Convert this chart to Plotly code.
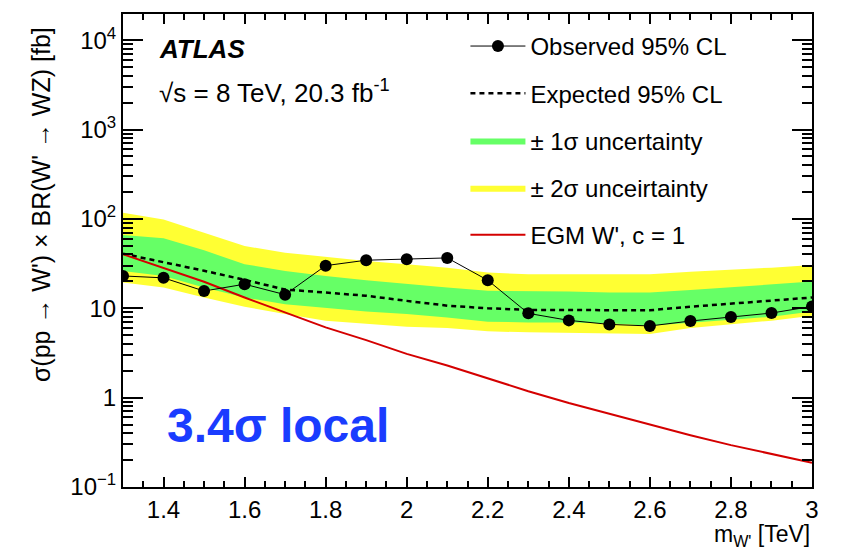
import plotly.graph_objects as go

# ---------------- data ----------------
mass = [1.3, 1.4, 1.5, 1.6, 1.7, 1.8, 1.9, 2.0, 2.1, 2.2, 2.3, 2.4, 2.5, 2.6, 2.7, 2.8, 2.9, 3.0]
observed = [23.0, 21.9, 15.6, 18.6, 14.2, 30.0, 34.5, 35.3, 36.6, 20.6, 8.77, 7.32, 6.60, 6.34, 7.20, 7.98, 8.84, 10.5]
expected = [40.8, 33.0, 26.3, 20.8, 16.2, 15.0, 13.8, 12.1, 10.7, 10.0, 9.6, 9.55, 9.45, 9.5, 10.4, 11.3, 12.1, 13.2]
sig1_hi = [66.0, 60.6, 44.5, 31.1, 26.2, 23.0, 20.6, 18.6, 17.1, 15.7, 15.7, 15.4, 15.0, 15.0, 16.0, 17.1, 18.3, 19.9]
sig1_lo = [26.2, 23.0, 17.1, 13.2, 11.1, 10.05, 9.22, 8.62, 7.9, 7.08, 6.95, 6.95, 6.78, 6.38, 6.95, 7.45, 8.05, 9.22]
sig2_hi = [117, 98.6, 70.0, 49.7, 41.9, 37.5, 33.9, 31.1, 28.5, 25.1, 24.0, 24.0, 24.0, 24.0, 25.7, 26.9, 28.5, 30.5]
sig2_lo = [19.4, 17.1, 13.2, 10.4, 8.62, 7.26, 6.67, 6.22, 6.02, 5.52, 5.38, 5.24, 5.24, 5.16, 6.02, 6.67, 7.26, 8.26]
egm = [40.2, 28.5, 19.8, 13.2, 9.0, 6.11, 4.4, 3.09, 2.29, 1.65, 1.18, 0.87, 0.66, 0.50, 0.38, 0.294, 0.233, 0.187]

y_tickvals = [0.1, 1, 10, 100, 1000, 10000]
y_ticktext = ["10<sup>\u22121</sup>", "1", "10", "10<sup>2</sup>", "10<sup>3</sup>", "10<sup>4</sup>"]
y_minor = [m * 10 ** e for e in range(-1, 5) for m in range(2, 10)]

FONT = "Liberation Sans, Arial, Helvetica, sans-serif"

fig = go.Figure()

# +-2 sigma band
fig.add_trace(go.Scatter(
    x=mass + mass[::-1], y=sig2_hi + sig2_lo[::-1],
    fill="toself", fillcolor="#ffff33", line=dict(width=0),
    mode="lines", name="\u00b1 2\u03c3 unceirtainty",
    legendgroup="g4", legendrank=4, hoverinfo="skip"))
# +-1 sigma band
fig.add_trace(go.Scatter(
    x=mass + mass[::-1], y=sig1_hi + sig1_lo[::-1],
    fill="toself", fillcolor="#66ff66", line=dict(width=0),
    mode="lines", name="\u00b1 1\u03c3 uncertainty",
    legendgroup="g3", legendrank=3, hoverinfo="skip"))
# expected
fig.add_trace(go.Scatter(
    x=mass, y=expected, mode="lines",
    line=dict(color="black", width=2.5, dash="5px,4px"),
    name="Expected 95% CL", legendgroup="g2", legendrank=2))
# EGM W'
fig.add_trace(go.Scatter(
    x=mass, y=egm, mode="lines",
    line=dict(color="#d40000", width=2),
    name="EGM W', c = 1", legendgroup="g5", legendrank=5))
# observed
fig.add_trace(go.Scatter(
    x=mass, y=observed, mode="lines+markers",
    line=dict(color="black", width=1),
    marker=dict(color="black", size=12),
    name="Observed 95% CL", legendgroup="g1", legendrank=1))

fig.update_layout(
    width=842, height=550,
    margin=dict(l=123, r=30, t=12, b=63),
    paper_bgcolor="white", plot_bgcolor="white",
    font=dict(family=FONT, size=24, color="black"),
    showlegend=True,
    legend=dict(x=0.497, y=0.979, xanchor="left", yanchor="top",
                bgcolor="rgba(0,0,0,0)", font=dict(size=24, family=FONT),
                tracegroupgap=13, itemwidth=55),
    xaxis=dict(
        range=[1.3, 3.0], tick0=0, dtick=0.2,
        ticks="inside", ticklen=10, tickwidth=1.5, tickcolor="black",
        showline=True, linecolor="black", linewidth=2, mirror="allticks",
        showgrid=False, zeroline=False,
        tickfont=dict(size=24, family=FONT),
        minor=dict(ticks="inside", ticklen=6, dtick=0.05, tick0=0,
                   tickcolor="black", tickwidth=1.5, showgrid=False),
    ),
    yaxis=dict(
        type="log", range=[-1, 4.293],
        tickmode="array", tickvals=y_tickvals, ticktext=y_ticktext,
        ticks="inside", ticklen=20, tickwidth=1.5, tickcolor="black",
        showline=True, linecolor="black", linewidth=2, mirror="allticks",
        showgrid=False, zeroline=False,
        tickfont=dict(size=24, family=FONT),
        minor=dict(ticks="inside", ticklen=10, tickmode="array", tickvals=y_minor,
                   tickcolor="black", tickwidth=1.5, showgrid=False),
    ),
)

annotations = [
    dict(text="<b><i>ATLAS</i></b>", x=0.05, y=0.926, xref="paper", yref="paper",
         xanchor="left", yanchor="middle", showarrow=False,
         font=dict(size=26, family=FONT)),
    dict(text="\u221as = 8 TeV, 20.3 fb<sup>-1</sup>", x=0.05, y=0.836, xref="paper", yref="paper",
         xanchor="left", yanchor="middle", showarrow=False,
         font=dict(size=26, family=FONT)),
    dict(text="<b>3.4\u03c3 local</b>", x=0.225, y=0.13, xref="paper", yref="paper",
         xanchor="center", yanchor="middle", showarrow=False,
         font=dict(size=48, family=FONT, color="#1a3cff")),
    dict(text="m<sub>W'</sub> [TeV]", x=1.0, y=-0.103, xref="paper", yref="paper",
         xanchor="right", yanchor="middle", showarrow=False,
         font=dict(size=23, family=FONT)),
    dict(text="\u03c3(pp \u2192 W') \u00d7 BR(W' \u2192 WZ) [fb]", x=-0.119, y=0.596,
         xref="paper", yref="paper", textangle=-90,
         xanchor="center", yanchor="middle", showarrow=False,
         font=dict(size=25, family=FONT)),
]
fig.update_layout(annotations=annotations)

fig.write_html("out.html")
